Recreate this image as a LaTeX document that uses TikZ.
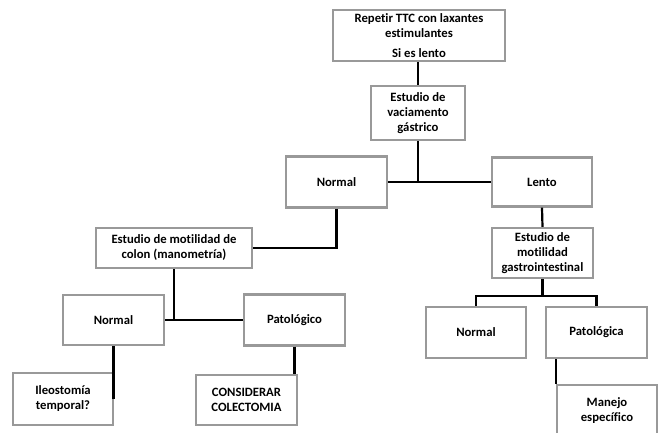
\documentclass[tikz,border=0pt]{standalone}
\usepackage{fontspec}
\setmainfont{Carlito}[Ligatures=NoCommon]
\begin{document}
\begin{tikzpicture}[x=1pt,y=-1pt,
  box/.style={draw=black!40, line width=2.4pt, fill=white, align=center,
    font=\bfseries\fontsize{12.7}{15}\selectfont, inner sep=0pt},
  conn/.style={draw=black, line width=2.2pt}]
\useasboundingbox (0,0) rectangle (665,432);
\clip (0,0) rectangle (665,432);
\node[box, minimum width=172, minimum height=51] (rep) at (419,35.5) {Repetir TTC con laxantes\\estimulantes\\[5pt]Si es lento};
\node[box, minimum width=94, minimum height=54] (vac) at (418,113) {Estudio de\\vaciamento\\gástrico};
\node[box, minimum width=101, minimum height=51] (n1) at (336.5,182) {Normal};
\node[box, minimum width=100, minimum height=49] (lento) at (542,182) {Lento};
\node[box, minimum width=156, minimum height=40] (colon) at (174,248) {Estudio de motilidad de\\colon (manometría)};
\node[box, minimum width=101, minimum height=50] (gi) at (542.5,253) {Estudio de\\motilidad\\gastrointestinal};
\node[box, minimum width=101, minimum height=50] (n2) at (113.5,320) {Normal};
\node[box, minimum width=101, minimum height=51] (pat1) at (294.5,320) {Patológico};
\node[box, minimum width=100, minimum height=51] (n3) at (476,332.5) {Normal};
\node[box, minimum width=101, minimum height=51] (pat2) at (596.5,332.5) {Patológica};
\node[box, minimum width=100, minimum height=52] (ileo) at (63,399) {Ileostomía\\temporal?};
\node[box, minimum width=101, minimum height=50] (cons) at (246.5,400) {CONSIDERAR\\COLECTOMIA};
\node[box, minimum width=100, minimum height=52] (man) at (607,411) {Manejo\\específico};
\coordinate (j) at (542.5,296);
\draw[conn] (vac.north) -- (vac.north |- rep.south);
\draw[conn] (n1.east) -- (lento.west);
\draw[conn] (vac.south) -- (vac.south |- n1.east);
\draw[conn] (n1.south) |- (colon.east);
\draw[conn] (n2.east) -- (pat1.west);
\draw[conn] (colon.south) -- (colon.south |- n2.east);
\draw[conn] (n2.south) -- (n2.south |- ileo.east);
\draw[conn] (pat1.south) -- (pat1.south |- cons.north);
\draw[conn] (lento.south) -- (gi.north);
\draw[conn] (gi.south) -- (j);
\draw[conn] (n3.north) |- (j) -| (pat2.north);
\draw[conn] (man.north west) -- (man.north west |- pat2.south);
\end{tikzpicture}
\end{document}
